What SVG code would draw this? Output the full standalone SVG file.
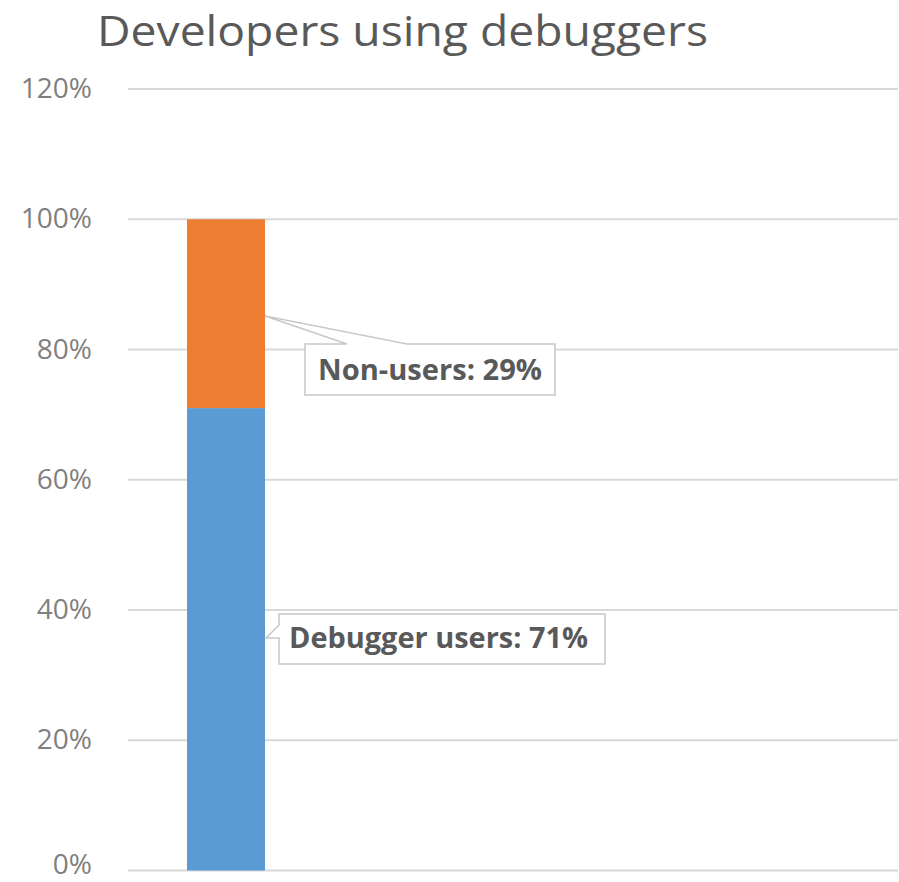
<svg xmlns="http://www.w3.org/2000/svg" width="899" height="882" viewBox="0 0 899 882">
  <style>
    .title { font-family: "Open Sans", "Liberation Sans", sans-serif; font-size: 42px; fill: #595959; }
    .tick { font-family: "Open Sans", "Liberation Sans", sans-serif; font-size: 28px; fill: #7f7f7f; text-anchor: end; }
    .grid { stroke: #d9d9d9; stroke-width: 2; fill: none; }
    .callout { fill: #ffffff; stroke: #c8c8c8; stroke-width: 1.5; }
    .lbl { font-family: "Open Sans", "Liberation Sans", sans-serif; font-size: 28px; font-weight: bold; fill: #595959; }
  </style>
  <rect width="899" height="882" fill="#ffffff"/>

  <text class="title" x="97" y="46" textLength="611" lengthAdjust="spacingAndGlyphs">Developers using debuggers</text>

  <!-- horizontal gridlines, 20% steps -->
  <g id="gridlines">
    <line class="grid" x1="128" y1="89" x2="898" y2="89"/>
    <line class="grid" x1="128" y1="219.3" x2="898" y2="219.3"/>
    <line class="grid" x1="128" y1="349.5" x2="898" y2="349.5"/>
    <line class="grid" x1="128" y1="479.8" x2="898" y2="479.8"/>
    <line class="grid" x1="128" y1="610" x2="898" y2="610"/>
    <line class="grid" x1="128" y1="740.3" x2="898" y2="740.3"/>
    <line class="grid" x1="128" y1="870.5" x2="898" y2="870.5"/>
  </g>

  <!-- value axis labels -->
  <g id="axis">
    <text class="tick" x="92" y="98">120%</text>
    <text class="tick" x="92" y="228.3">100%</text>
    <text class="tick" x="92" y="358.5">80%</text>
    <text class="tick" x="92" y="488.8">60%</text>
    <text class="tick" x="92" y="619">40%</text>
    <text class="tick" x="92" y="749.3">20%</text>
    <text class="tick" x="92" y="874">0%</text>
  </g>

  <!-- stacked bar -->
  <g id="bar-debugger-users">
    <rect x="187" y="408.1" width="78" height="462.4" fill="#5b9bd5"/>
  </g>
  <g id="bar-non-users">
    <rect x="187" y="219.3" width="78" height="188.8" fill="#ed7d31"/>
  </g>

  <!-- data label callouts -->
  <g id="label-non-users">
    <path class="callout" d="M305,344 L347,344 L265,316 L407,344 L555,344 L555,395 L305,395 Z"/>
    <text class="lbl" x="318" y="380" textLength="224" lengthAdjust="spacingAndGlyphs">Non-users: 29%</text>
  </g>
  <g id="label-debugger-users">
    <path class="callout" d="M279,614 L605,614 L605,664 L279,664 L279,638 L266,638 L279,625 Z"/>
    <text class="lbl" x="289" y="648" textLength="299" lengthAdjust="spacingAndGlyphs">Debugger users: 71%</text>
  </g>
</svg>
